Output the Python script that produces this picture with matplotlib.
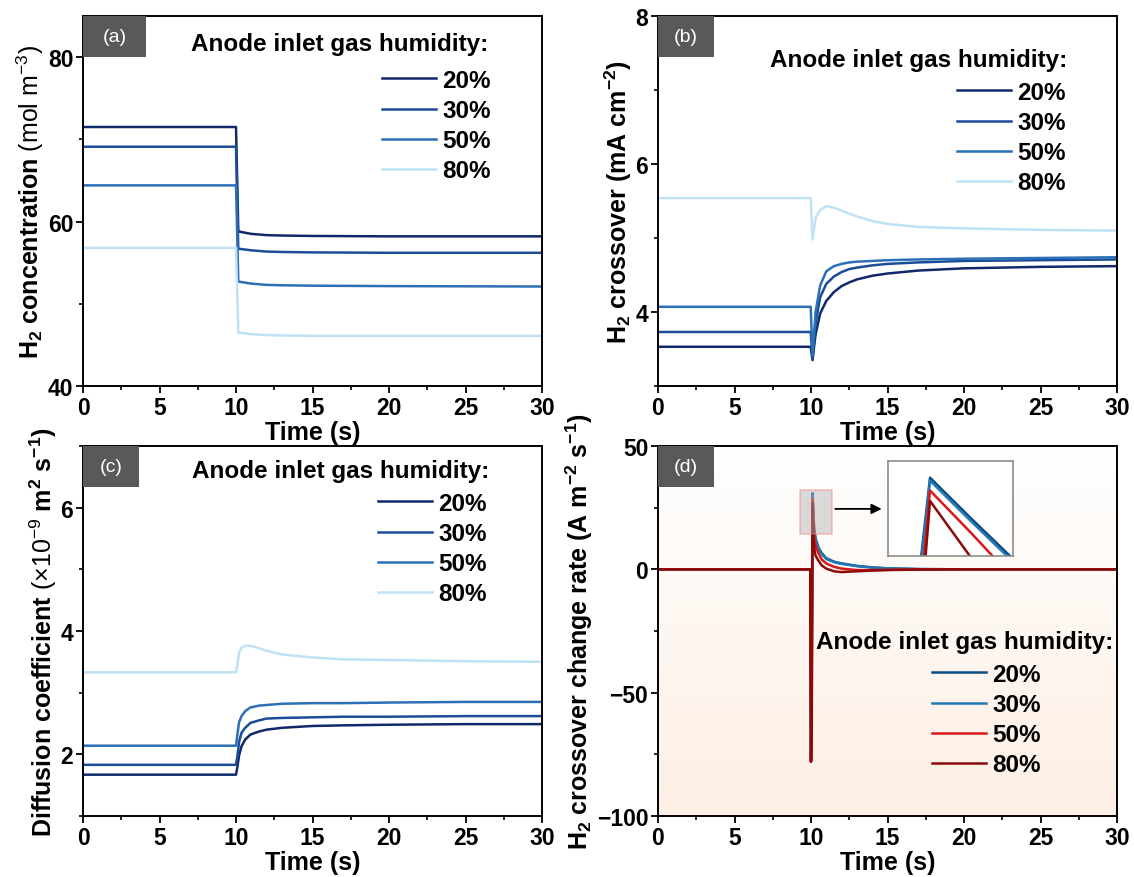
import numpy as np
import matplotlib
matplotlib.use('Agg')
import matplotlib.pyplot as plt
from matplotlib.ticker import MultipleLocator
from matplotlib.patches import Rectangle

plt.rcParams['font.family'] = ['Liberation Sans', 'DejaVu Sans']
plt.rcParams['mathtext.fontset'] = 'custom'
plt.rcParams['mathtext.rm'] = 'Liberation Sans'
plt.rcParams['mathtext.bf'] = 'Liberation Sans:bold'
plt.rcParams['mathtext.it'] = 'Liberation Sans:italic'

humidity = ['20%', '30%', '50%', '80%']
legend_title = 'Anode inlet gas humidity:'

# (a) H2 concentration, mol m-3
t_conc = [0, 10.0, 10.15, 11, 12, 13, 15, 20, 30]
conc = {
    '20%': [71.5, 71.5, 58.8, 58.5, 58.35, 58.3, 58.25, 58.2, 58.2],
    '30%': [69.1, 69.1, 56.7, 56.5, 56.35, 56.3, 56.25, 56.2, 56.2],
    '50%': [64.4, 64.4, 52.7, 52.45, 52.3, 52.25, 52.2, 52.15, 52.1],
    '80%': [56.8, 56.8, 46.5, 46.3, 46.2, 46.15, 46.1, 46.1, 46.1],
}

# (b) H2 crossover, mA cm-2
t_cross = [0, 9.98, 10.1, 10.3, 10.6, 11, 11.5, 12, 12.5, 13, 14, 15, 17, 20, 25, 30]
cross = {
    '20%': [3.53, 3.53, 3.35, 3.70, 3.98, 4.15, 4.27, 4.35, 4.40, 4.44, 4.49, 4.52, 4.56, 4.59, 4.61, 4.62],
    '30%': [3.73, 3.73, 3.37, 3.85, 4.20, 4.38, 4.48, 4.54, 4.58, 4.60, 4.63, 4.65, 4.67, 4.69, 4.70, 4.71],
    '50%': [4.07, 4.07, 3.42, 4.00, 4.36, 4.55, 4.62, 4.65, 4.67, 4.68, 4.69, 4.70, 4.71, 4.72, 4.73, 4.74],
    '80%': [5.54, 5.54, 4.98, 5.27, 5.38, 5.43, 5.41, 5.37, 5.33, 5.29, 5.23, 5.19, 5.15, 5.13, 5.11, 5.10],
}

# (c) diffusion coefficient, 1e-9 m2 s-1
t_diff = [0, 10.0, 10.08, 10.2, 10.36, 10.6, 10.94, 11.5, 12, 13, 15, 17, 20, 25, 30]
diff = {
    '20%': [1.67, 1.67, 1.78, 1.98, 2.13, 2.24, 2.32, 2.37, 2.40, 2.43, 2.46, 2.47, 2.48, 2.49, 2.49],
    '30%': [1.83, 1.83, 1.95, 2.20, 2.35, 2.43, 2.51, 2.55, 2.58, 2.59, 2.60, 2.61, 2.61, 2.62, 2.62],
    '50%': [2.14, 2.14, 2.30, 2.52, 2.62, 2.70, 2.76, 2.79, 2.80, 2.82, 2.83, 2.83, 2.84, 2.85, 2.85],
    '80%': [3.33, 3.33, 3.43, 3.65, 3.73, 3.76, 3.76, 3.72, 3.68, 3.62, 3.57, 3.54, 3.53, 3.51, 3.50],
}

# (d) H2 crossover change rate, A m-2 s-1
t_rate = [0, 9.95, 10.0, 10.05, 10.1, 10.15, 10.2, 10.3, 10.5, 10.7, 11.0, 11.5, 12, 13, 14, 15, 17, 20, 30]
rate = {
    '20%': [0, 0, -77, -33, 30.8, 23.7, 16.8, 12.5, 8.6, 6.6, 4.5, 3.1, 2.4, 1.4, 0.8, 0.4, 0.1, 0, 0],
    '30%': [0, 0, -77.5, -36, 30.3, 23.2, 16.3, 12.0, 8.2, 6.2, 4.2, 2.9, 2.2, 1.3, 0.7, 0.4, 0.1, 0, 0],
    '50%': [0, 0, -78, -50, 28.6, 21.2, 13.5, 9.5, 6.4, 4.0, 2.4, 1.0, 0.3, -0.3, -0.3, -0.2, 0, 0, 0],
    '80%': [0, 0, -78, -62, 26.8, 16.9, 9.0, 5.5, 3.4, 1.6, 0.3, -0.8, -1.1, -0.8, -0.5, -0.3, -0.1, 0, 0],
}

blues = ['#10296a', '#1a4c98', '#2b6fb6', '#bfe2f5']
mixed = ['#0c4a7e', '#2179b4', '#d7191c', '#8b0a0a']

W, H = 1134, 878
fig = plt.figure(figsize=(W / 100, H / 100), dpi=100)
boxes = {}


def px_axes(left, top, right, bottom):
    ax = fig.add_axes([left / W, 1 - bottom / H, (right - left) / W, (bottom - top) / H])
    boxes[ax] = (left, top, right, bottom)
    return ax


def frac(ax, x, y):
    left, top, right, bottom = boxes[ax]
    return (x - left) / (right - left), (bottom - y) / (bottom - top)


def style(ax, ylim, ymaj, ymin, ylabel, tag, tag_w):
    ax.set_xlim(0, 30)
    ax.set_ylim(*ylim)
    ax.xaxis.set_major_locator(MultipleLocator(5))
    ax.xaxis.set_minor_locator(MultipleLocator(2.5))
    ax.yaxis.set_major_locator(MultipleLocator(ymaj))
    ax.yaxis.set_minor_locator(MultipleLocator(ymin))
    ax.tick_params(which='major', direction='out', length=5, width=1.3, labelsize=16.5, pad=2)
    ax.tick_params(which='minor', direction='out', length=3, width=1.2)
    for lab in ax.get_xticklabels() + ax.get_yticklabels():
        lab.set_fontweight('bold')
    for sp in ax.spines.values():
        sp.set_linewidth(1.4)
    ax.set_xlabel('Time (s)', fontsize=18, fontweight='bold', labelpad=1)
    ax.set_ylabel(ylabel, fontsize=18, labelpad=1)
    # grey tag box in the upper-left corner
    left, top, right, bottom = boxes[ax]
    bw = tag_w / (right - left)
    bh = 41 / (bottom - top)
    ax.add_patch(Rectangle((0, 1 - bh), bw, bh, transform=ax.transAxes,
                           facecolor='#595959', edgecolor='none', zorder=5, clip_on=False))
    ax.text(bw / 2, 1 - bh / 2, tag, transform=ax.transAxes, color='white',
            fontsize=14, ha='center', va='center', zorder=6)


def add_legend(ax, title_right, title_y, entry_right, entry_y):
    tx, ty = frac(ax, title_right, title_y)
    ax.text(tx, ty, legend_title, transform=ax.transAxes, ha='right', va='center',
            fontsize=17.5, fontweight='bold', zorder=6)
    lx, ly = frac(ax, entry_right, entry_y - 12)
    ax.legend(loc='upper right', bbox_to_anchor=(lx, ly), frameon=False,
              borderpad=0, borderaxespad=0, handlelength=2.25, handletextpad=0.25,
              labelspacing=0.29, prop={'size': 17.5, 'weight': 'bold'})


# (a)
ax_a = px_axes(83, 17, 542, 387)
for h, c in zip(humidity, blues):
    ax_a.plot(t_conc, conc[h], color=c, lw=1.8, label=h)
style(ax_a, (40, 85), 20, 10, r'$\mathbf{H_2\ concentration}\ \mathrm{(mol\ m^{-3})}$', '(a)', 63)
add_legend(ax_a, 488, 45, 491, 82)

# (b)
ax_b = px_axes(658, 17, 1117, 387)
for h, c in zip(humidity, blues):
    ax_b.plot(t_cross, cross[h], color=c, lw=1.8, label=h)
style(ax_b, (3, 8), 2, 1, r'$\mathbf{H_2\ crossover\ (mA\ cm^{-2})}$', '(b)', 56)
add_legend(ax_b, 1067, 60, 1066, 94)

# (c)
ax_c = px_axes(83, 447, 542, 817)
for h, c in zip(humidity, blues):
    ax_c.plot(t_diff, diff[h], color=c, lw=1.8, label=h)
style(ax_c, (1, 7), 2, 1,
      r'$\mathbf{Diffusion\ coefficient}\ \mathrm{(\times10^{-9}}\ \mathbf{m^{2}\ s^{-1})}$', '(c)', 56)
add_legend(ax_c, 489, 472, 487, 505)

# (d)
ax_d = px_axes(658, 447, 1117, 817)
grad = np.linspace(0, 1, 256)[:, None]
top_rgb = np.array([1.0, 1.0, 1.0])
bot_rgb = np.array([0.992, 0.937, 0.894])
img = top_rgb + (bot_rgb - top_rgb) * grad[..., None]
ax_d.imshow(np.repeat(img, 2, axis=1), extent=[0, 30, -100, 50], origin='upper',
            aspect='auto', zorder=0)
for h, c in zip(humidity, mixed):
    ax_d.plot(t_rate, rate[h], color=c, lw=1.8, label=h, zorder=2)
style(ax_d, (-100, 50), 50, 25,
      r'$\mathbf{H_2\ crossover\ change\ rate\ (A\ m^{-2}\ s^{-1})}$', '(d)', 56)
add_legend(ax_d, 1113, 642, 1041, 676)

# zoom box, arrow and inset around the spike
ax_d.add_patch(Rectangle((9.25, 14.5), 2.1, 17.5, facecolor='#b0b0b0', alpha=0.45,
                         edgecolor='#f08080', lw=1.2, zorder=3))
ax_d.annotate('', xy=(14.8, 24.5), xytext=(11.4, 24.5),
              arrowprops=dict(arrowstyle='-|>', color='black', lw=1.3, mutation_scale=15), zorder=4)
ins = ax_d.inset_axes([0.502, 0.703, 0.272, 0.256])
for h, c in zip(humidity, mixed):
    ins.plot(t_rate, rate[h], color=c, lw=1.8)
ins.set_xlim(10.05, 10.2)
ins.set_ylim(17.35, 33.65)
ins.set_xticks([])
ins.set_yticks([])
for sp in ins.spines.values():
    sp.set_color('#8c8c8c')
    sp.set_linewidth(1.2)

fig.savefig('out.png', dpi=100)
